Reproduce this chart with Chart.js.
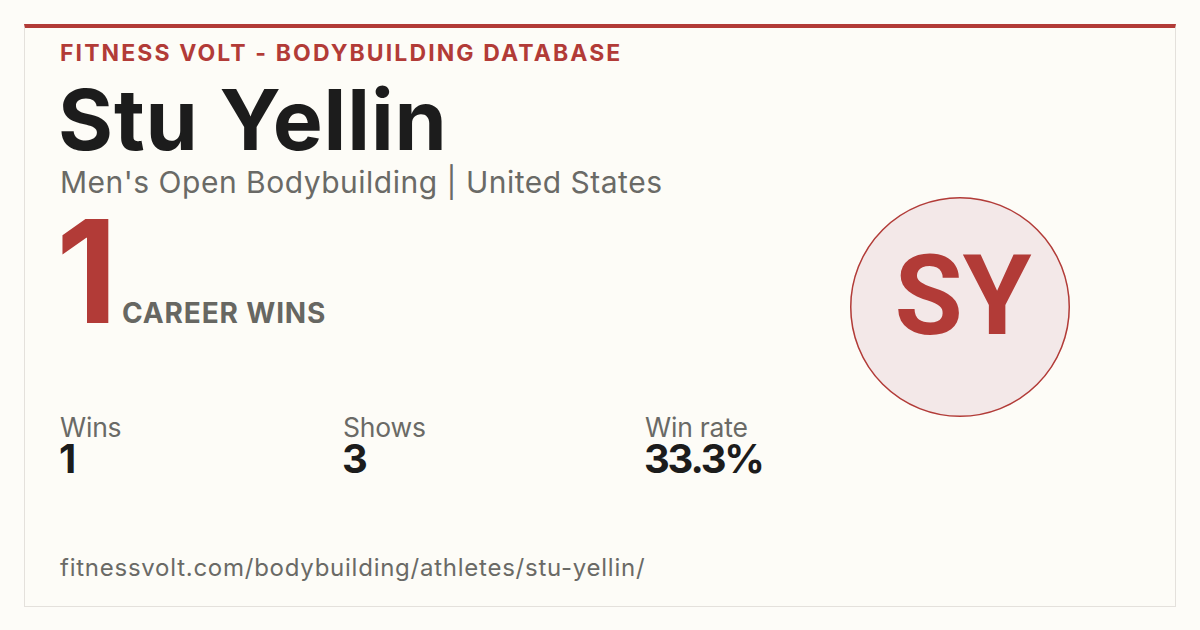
<!DOCTYPE html>
<html>
<head>
<meta charset="utf-8">
<script src="https://cdn.jsdelivr.net/npm/chart.js@4.4.1/dist/chart.umd.min.js"></script>
<style>
  html, body { margin: 0; padding: 0; }
  body { width: 1200px; height: 630px; background: #fdfcf8; position: relative; overflow: hidden; font-family: Inter, "DejaVu Sans", sans-serif; }
  .card { position: absolute; left: 24px; top: 24px; width: 1150px; height: 578px; background: #fdfcf7; border: 1px solid #e4e1dc; border-top: 4px solid #b23b37; }
  .t { position: absolute; line-height: 1; white-space: nowrap; }
  #kicker { left: 60px; top: 42px; font-size: 23px; font-weight: 700; color: #b23b37; letter-spacing: 2.1px; }
  #name { left: 58px; top: 78px; font-size: 84px; font-weight: 700; color: #1c1c1c; letter-spacing: 0.9px; }
  #sub { left: 60px; top: 167px; font-size: 30px; font-weight: 400; color: #6a6a66; letter-spacing: 0.5px; }
  #big { left: 56px; top: 199px; font-size: 143px; font-weight: 700; color: #b23b37; letter-spacing: -4px; }
  #career { left: 122px; top: 299px; font-size: 28px; font-weight: 700; color: #676762; letter-spacing: 0.85px; }
  .lab { top: 418px; font-size: 26.5px; line-height: 0.75; font-weight: 400; color: #6a6a66; letter-spacing: -0.2px; }
  .val { top: 445px; font-size: 40px; line-height: 0.72; font-weight: 700; color: #1c1c1c; letter-spacing: -0.5px; }
  .val.pct { letter-spacing: -2.2px; }
  #url { left: 60px; top: 556px; font-size: 24px; font-weight: 400; color: #6a6a66; letter-spacing: 0.75px; }
  #badge { position: absolute; left: 848px; top: 195px; width: 224px; height: 224px; }
</style>
</head>
<body>
<div class="card"></div>
<div class="t" id="kicker">FITNESS VOLT - BODYBUILDING DATABASE</div>
<div class="t" id="name">Stu Yellin</div>
<div class="t" id="sub">Men's Open Bodybuilding | United States</div>
<div class="t" id="big">1</div>
<div class="t" id="career">CAREER WINS</div>
<div id="stats"></div>
<div class="t" id="url">fitnessvolt.com/bodybuilding/athletes/stu-yellin/</div>
<div id="badge"><canvas id="grafico1"></canvas></div>
<script>
const statLabels = ['Wins', 'Shows', 'Win rate'];
const statValues = ['1', '3', '33.3%'];
const statX = [60, 343, 645];

const badgeLabels = ['SY'];
const badgeValues = [1];

document.addEventListener("DOMContentLoaded", () => {
  const stats = document.querySelector("#stats");
  statLabels.forEach((etiqueta, i) => {
    const lab = document.createElement("div");
    lab.className = "t lab";
    lab.style.left = statX[i] + "px";
    lab.textContent = etiqueta;
    stats.appendChild(lab);
    const val = document.createElement("div");
    val.className = statValues[i].includes('%') ? "t val pct" : "t val";
    val.style.left = (statX[i] - 1) + "px";
    val.textContent = statValues[i];
    stats.appendChild(val);
  });

  // contorno del circulo + iniciales
  const iniciales = {
    id: 'iniciales',
    afterDatasetsDraw(chart) {
      const arc = chart.getDatasetMeta(0).data[0];
      const ctx = chart.ctx;
      ctx.save();
      ctx.beginPath();
      ctx.arc(arc.x, arc.y, arc.outerRadius - 0.75, 0, Math.PI * 2);
      ctx.strokeStyle = '#b23b37';
      ctx.lineWidth = 1.5;
      ctx.stroke();
      ctx.fillStyle = '#b23b37';
      ctx.font = '700 111px Roboto';
      ctx.textAlign = 'center';
      ctx.textBaseline = 'alphabetic';
      ctx.fillText(chart.data.labels[0], arc.x + 3, arc.y + 27);
      ctx.restore();
    }
  };

  const lienzo = document.querySelector("#grafico1");
  new Chart(lienzo, {
    type: 'pie',
    data: {
      labels: badgeLabels,
      datasets: [
        {
          data: badgeValues,
          backgroundColor: '#f3e8e8',
          borderWidth: 0
        }
      ]
    },
    options: {
      responsive: true,
      maintainAspectRatio: false,
      animation: false,
      layout: { padding: 2 },
      plugins: { legend: { display: false }, tooltip: { enabled: false } }
    },
    plugins: [iniciales]
  });
});
</script>
</body>
</html>
